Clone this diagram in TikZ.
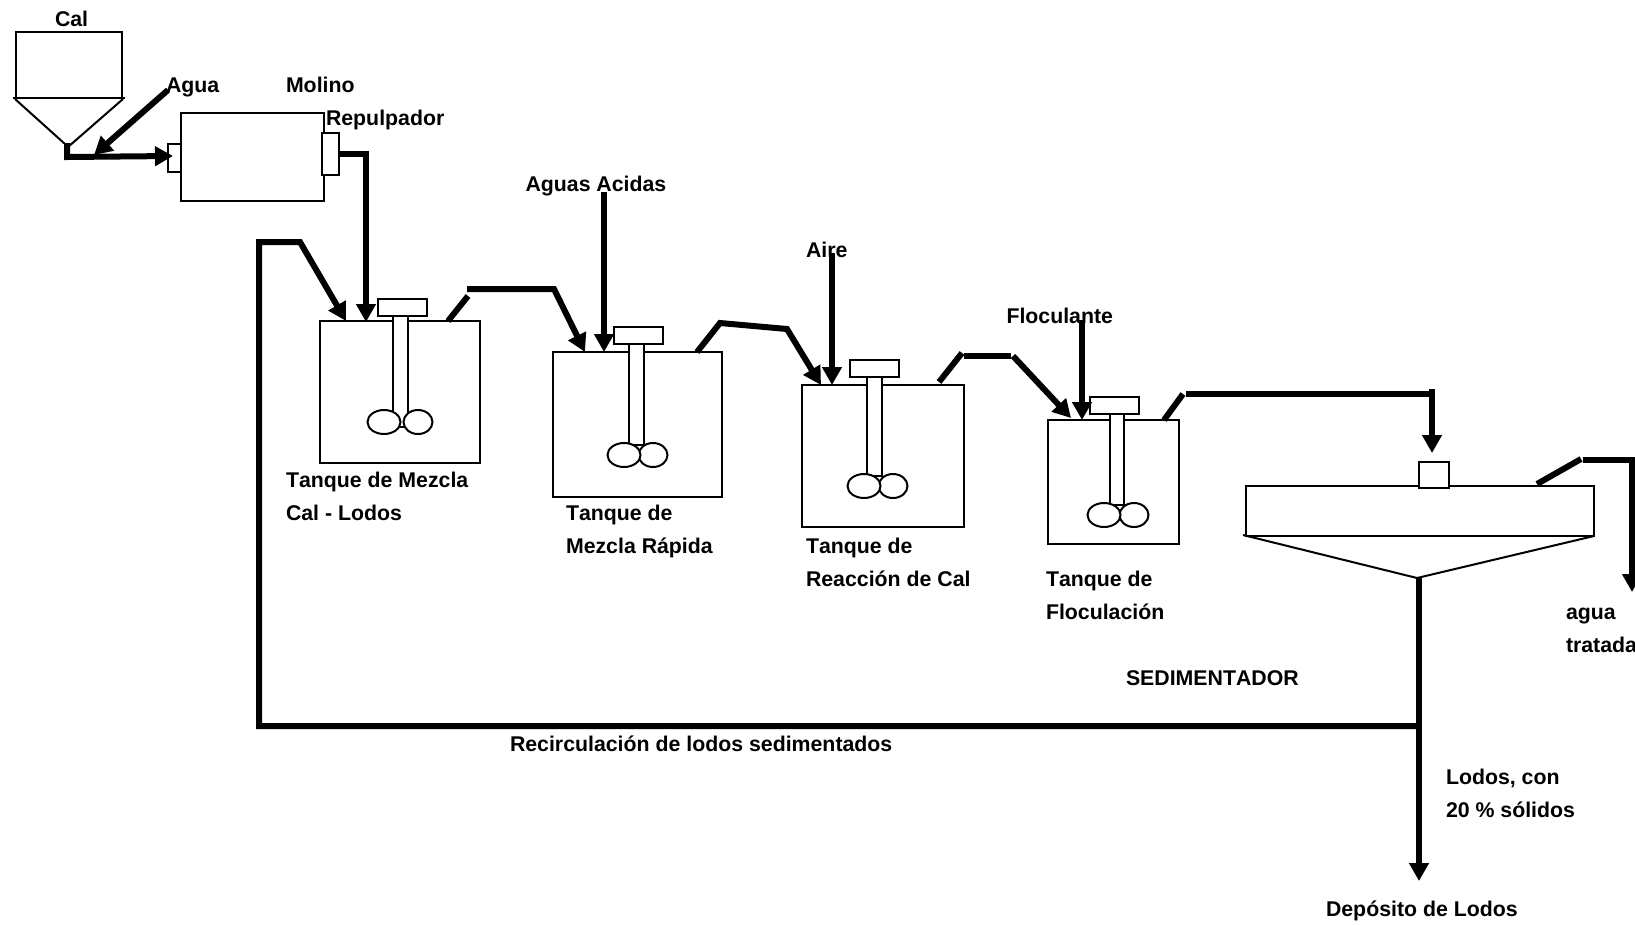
\documentclass[tikz,border=0pt]{standalone}
\usepackage{fontspec}
\setmainfont[Kerning=Off]{Liberation Sans}
\usetikzlibrary{arrows.meta,shapes.geometric}
\tikzset{
  x=1pt,y=-1pt,
  thin line/.style={line width=2pt,draw=black},
  vessel/.style={thin line,fill=white,rectangle,inner sep=0pt,outer sep=0pt},
  pipe/.style={line width=6pt,draw=black,line cap=butt,line join=miter},
  feed/.style={pipe,-{Triangle[length=18pt,width=19pt]}},
  label/.style={anchor=base west,inner sep=0pt,outer sep=0pt,font=\fontsize{21.3}{25}\selectfont\bfseries,text=black}
}
% name, x1, y1, x2, y2
\newcommand\vesselbox[5]{%
  \pgfmathsetmacro\vw{(#4)-(#2)}\pgfmathsetmacro\vh{(#5)-(#3)}%
  \pgfmathsetmacro\vcx{((#2)+(#4))/2}\pgfmathsetmacro\vcy{((#3)+(#5))/2}%
  \node[vessel,minimum width=\vw pt,minimum height=\vh pt] (#1) at (\vcx,\vcy) {};}
% name, shaft x1,y1,x2,y2, motor centre x
\newcommand\agitator[6]{%
  \vesselbox{#1shaft}{#2}{#3}{#4}{#5}%
  \vesselbox{#1motor}{#6-24.5}{#3-17}{#6+24.5}{#3}}
% name, left x, right x, y
\newcommand\impeller[4]{%
  \node[vessel,ellipse,minimum width=29pt,minimum height=24pt] (#1right) at (#3,#4) {};%
  \node[vessel,ellipse,minimum width=33pt,minimum height=24pt] (#1left) at (#2,#4) {};}
\begin{document}
\begin{tikzpicture}
\useasboundingbox (0,0) rectangle (1635,924);
% Hopper
\vesselbox{hopper}{16}{32}{122}{98}
\coordinate (hl) at (13,98); \coordinate (hr) at (125,98);
\coordinate (hbl) at (65,144); \coordinate (hbr) at (68,147);
\draw[thin line] (hl) -- (hr);
\draw[thin line] (15,99) -- (hbl);
\draw[thin line] (123,99) -- (hbr);
% Mill
\vesselbox{millin}{168}{144}{181}{172}
\vesselbox{mill}{181}{113}{324}{201}
\vesselbox{millout}{322}{133}{339}{175}
% Tanks
\vesselbox{tankA}{320}{321}{480}{463}
\vesselbox{tankB}{553}{352}{722}{497}
\vesselbox{tankC}{802}{385}{964}{527}
\vesselbox{tankD}{1048}{420}{1179}{544}
\agitator{a}{393}{316}{408}{427}{402.5}
\agitator{b}{629}{344}{644}{445}{638.5}
\agitator{c}{867}{377}{882}{476}{874.5}
\agitator{d}{1110}{414}{1124}{505}{1114.5}
\impeller{a}{384}{418}{422}
\impeller{b}{624}{653}{455}
\impeller{c}{864}{893}{486}
\impeller{d}{1104}{1134}{515}
% Settler
\vesselbox{settler}{1246}{486}{1594}{536}
\vesselbox{settlerfeed}{1419}{462}{1449}{488}
\coordinate (cl) at (1243,535); \coordinate (cb) at (1417,578); \coordinate (cr) at (1594,536);
\draw[thin line] (cl) -- (cb) -- (cr);
% Connector points
\coordinate (p1) at (67,143); \coordinate (p2) at (67,157); \coordinate (p3) at (173,156);
\coordinate (w1) at (168,90); \coordinate (w2) at (94,155);
\coordinate (m1) at (339,154); \coordinate (m2) at (366,154); \coordinate (m3) at (366,322);
\coordinate (r0) at (1419,726); \coordinate (r1) at (259,726); \coordinate (r2) at (259,242);
\coordinate (r3) at (300,242); \coordinate (r4) at (346,321);
\coordinate (a1) at (448,321); \coordinate (a2) at (468,296);
\coordinate (a3) at (467,289); \coordinate (a4) at (554,289); \coordinate (a5) at (585,352);
\coordinate (g1) at (604,192); \coordinate (g2) at (604,352);
\coordinate (b1) at (697,352); \coordinate (b2) at (720,323); \coordinate (b3) at (787,329); \coordinate (b4) at (821,385);
\coordinate (i1) at (832,253); \coordinate (i2) at (832,385);
\coordinate (c1) at (939,382); \coordinate (c2) at (962,353);
\coordinate (c3) at (964,356); \coordinate (c4) at (1011,356);
\coordinate (c5) at (1013,356); \coordinate (c6) at (1071,418);
\coordinate (f1) at (1082,320); \coordinate (f2) at (1082,420);
\coordinate (d1) at (1164,420); \coordinate (d2) at (1183,394);
\coordinate (d3) at (1186,394); \coordinate (d4) at (1432,394);
\coordinate (d5) at (1432,389); \coordinate (d6) at (1432,453);
\coordinate (s1) at (1537,484); \coordinate (s2) at (1581,459);
\coordinate (s3) at (1583,460); \coordinate (s4) at (1632,460); \coordinate (s5) at (1632,592);
\coordinate (u1) at (1419,578); \coordinate (u2) at (1419,881);
% Connectors
\draw[feed] (p1) -- (p2) -- (p3);
\draw[feed] (w1) -- (w2);
\draw[feed] (m1) -- (m2) -- (m3);
\draw[feed] (r0) -- (r1) -- (r2) -- (r3) -- (r4);
\draw[pipe] (a1) -- (a2);
\draw[feed] (a3) -- (a4) -- (a5);
\draw[feed] (g1) -- (g2);
\draw[feed] (b1) -- (b2) -- (b3) -- (b4);
\draw[feed] (i1) -- (i2);
\draw[pipe] (c1) -- (c2);
\draw[pipe] (c3) -- (c4);
\draw[feed] (c5) -- (c6);
\draw[feed] (f1) -- (f2);
\draw[pipe] (d1) -- (d2);
\draw[pipe] (d3) -- (d4);
\draw[feed] (d5) -- (d6);
\draw[pipe] (s1) -- (s2);
\draw[feed] (s3) -- (s4) -- (s5);
\draw[feed] (u1) -- (u2);
% Labels
\node[label] (tcal) at (55,26) {Cal};
\node[label] (tagua) at (166,92) {Agua};
\node[label] (tmol) at (286,92) {Molino};
\node[label] (trep) at (326,125) {Repulpador};
\node[label] (tacid) at (525.5,191) {Aguas Acidas};
\node[label] (tA1) at (286,487) {Tanque de Mezcla};
\node[label] (tA2) at (286,520) {Cal - Lodos};
\node[label] (tB1) at (566,520) {Tanque de};
\node[label] (tB2) at (566,553) {Mezcla Rápida};
\node[label] (taire) at (806,257) {Aire};
\node[label] (tfloc) at (1006.5,323) {Floculante};
\node[label] (tC1) at (806,553) {Tanque de};
\node[label] (tC2) at (806,586) {Reacción de Cal};
\node[label] (tD1) at (1046,586) {Tanque de};
\node[label] (tD2) at (1046,619) {Floculación};
\node[label] (tsed) at (1126,685) {SEDIMENTADOR};
\node[label] (trec) at (510,751) {Recirculación de lodos sedimentados};
\node[label] (tl1) at (1446,784) {Lodos, con};
\node[label] (tl2) at (1446,817) {20 \% sólidos};
\node[label] (tdep) at (1326,916) {Depósito de Lodos};
\node[label] (tag1) at (1566,619) {agua};
\node[label] (tag2) at (1566,652) {tratada};
\end{tikzpicture}
\end{document}
